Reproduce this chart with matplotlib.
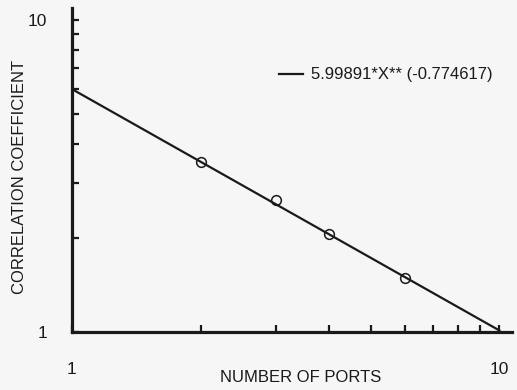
import matplotlib
matplotlib.use("Agg")
import matplotlib.pyplot as plt
import numpy as np
from matplotlib.ticker import LogLocator, FixedFormatter, FixedLocator, NullFormatter

# Measured correlation coefficients versus number of ports
ports = [2, 3, 4, 6]
corr = [3.50, 2.64, 2.06, 1.48]

# Power-law fit  y = a * x**b
fit_a = 5.99891
fit_b = -0.774617
fit_label = "5.99891*X** (-0.774617)"

x_ticks = [1, 10]
x_ticklabels = ["1", "10"]
y_ticks = [1, 10]
y_ticklabels = ["1", "10"]

x_title = "NUMBER OF PORTS"
y_title = "CORRELATION COEFFICIENT"

fam = ["Liberation Sans Narrow", "Liberation Sans", "DejaVu Sans"]
ink = "#1a1a1a"
bg = "#f6f6f6"

W, H = 517, 390
fig = plt.figure(figsize=(W / 100, H / 100), dpi=100, facecolor=bg)
ax = fig.add_axes([72 / W, (H - 331.5) / H, (511.7 - 72) / W, (331.5 - 8) / H])
ax.set_facecolor(bg)

ax.set_xscale("log")
ax.set_yscale("log")
ax.set_xlim(1, 10 ** 1.029)
ax.set_ylim(1, 10 ** 1.0385)

xs = np.logspace(0, 1, 200)
ax.plot(xs, fit_a * xs ** fit_b, color=ink, lw=1.6, label=fit_label, zorder=3)
ax.plot(ports, corr, linestyle="none", marker="o", markersize=7,
        markerfacecolor="none", markeredgecolor=ink, markeredgewidth=1.1, zorder=4)

for side in ("top", "right"):
    ax.spines[side].set_visible(False)
for side in ("left", "bottom"):
    ax.spines[side].set_linewidth(2.3)
    ax.spines[side].set_color(ink)

ax.xaxis.set_major_locator(FixedLocator(x_ticks))
ax.xaxis.set_major_formatter(FixedFormatter(x_ticklabels))
ax.yaxis.set_major_locator(FixedLocator(y_ticks))
ax.yaxis.set_major_formatter(FixedFormatter(y_ticklabels))
ax.xaxis.set_minor_locator(LogLocator(base=10, subs=np.arange(2, 10)))
ax.yaxis.set_minor_locator(LogLocator(base=10, subs=np.arange(2, 10)))
ax.xaxis.set_minor_formatter(NullFormatter())
ax.yaxis.set_minor_formatter(NullFormatter())

ax.tick_params(axis="both", which="both", direction="in", length=5, width=1.6,
               color=ink, labelcolor=ink, labelsize=12.5)
ax.tick_params(axis="x", which="major", pad=22)
ax.tick_params(axis="y", which="major", pad=18)
for lbl in ax.get_xticklabels() + ax.get_yticklabels():
    lbl.set_family(fam)

# Axis titles placed in figure pixels so they stay inside the canvas
fig.text(301 / W, 1 - 377 / H, x_title, family=fam, fontsize=12, color=ink,
         ha="center", va="center")
fig.text(20 / W, 1 - 177 / H, y_title, family=fam, fontsize=12, color=ink,
         ha="center", va="center", rotation=90)

leg = ax.legend(loc="center left", bbox_to_anchor=((279 - 72) / 439.7, (331.5 - 75) / 323.5),
                frameon=False, handlelength=1.45, handletextpad=0.45,
                borderpad=0, borderaxespad=0, prop={"family": fam, "size": 12})
for t in leg.get_texts():
    t.set_color(ink)

fig.savefig("out.png", dpi=100, facecolor=bg)
